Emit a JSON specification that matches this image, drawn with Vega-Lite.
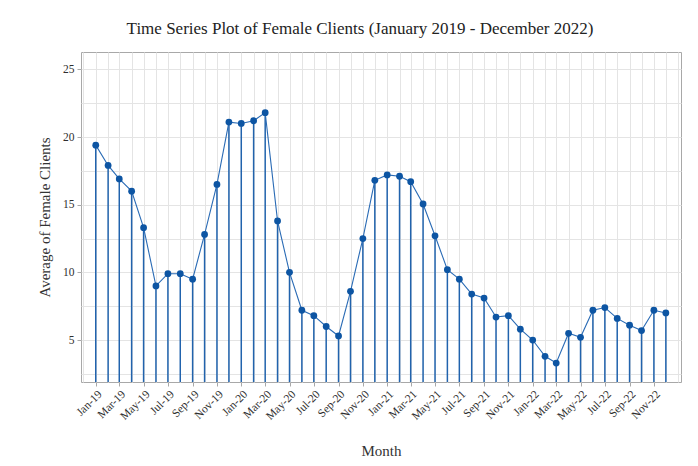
{
  "$schema": "https://vega.github.io/schema/vega-lite/v6.json",
  "width": 600,
  "height": 330,
  "autosize": {"type": "none"},
  "padding": {"left": 81, "top": 52, "right": 17, "bottom": 84},
  "background": "white",
  "title": {
    "text": "Time Series Plot of Female Clients (January 2019 - December 2022)",
    "font": "Liberation Serif",
    "fontSize": 17,
    "fontWeight": "normal",
    "color": "#222222",
    "anchor": "middle",
    "dx": -21,
    "offset": 14
  },
  "config": {
    "view": {"stroke": "#a8a8a8", "strokeWidth": 1},
    "axis": {
      "labelFont": "Liberation Serif",
      "titleFont": "Liberation Serif",
      "gridColor": "#e4e4e4",
      "gridWidth": 1,
      "tickColor": "#a8a8a8",
      "labelColor": "#2e2e2e",
      "titleColor": "#333333",
      "titleFontWeight": "normal"
    }
  },
  "data": {
    "values": [
      {"month": "2019-01-01", "value": 19.4},
      {"month": "2019-02-01", "value": 17.9},
      {"month": "2019-03-01", "value": 16.9},
      {"month": "2019-04-01", "value": 16.0},
      {"month": "2019-05-01", "value": 13.3},
      {"month": "2019-06-01", "value": 9.0},
      {"month": "2019-07-01", "value": 9.9},
      {"month": "2019-08-01", "value": 9.9},
      {"month": "2019-09-01", "value": 9.5},
      {"month": "2019-10-01", "value": 12.8},
      {"month": "2019-11-01", "value": 16.5},
      {"month": "2019-12-01", "value": 21.1},
      {"month": "2020-01-01", "value": 21.0},
      {"month": "2020-02-01", "value": 21.2},
      {"month": "2020-03-01", "value": 21.8},
      {"month": "2020-04-01", "value": 13.8},
      {"month": "2020-05-01", "value": 10.0},
      {"month": "2020-06-01", "value": 7.2},
      {"month": "2020-07-01", "value": 6.8},
      {"month": "2020-08-01", "value": 6.0},
      {"month": "2020-09-01", "value": 5.3},
      {"month": "2020-10-01", "value": 8.6},
      {"month": "2020-11-01", "value": 12.5},
      {"month": "2020-12-01", "value": 16.8},
      {"month": "2021-01-01", "value": 17.2},
      {"month": "2021-02-01", "value": 17.1},
      {"month": "2021-03-01", "value": 16.7},
      {"month": "2021-04-01", "value": 15.05},
      {"month": "2021-05-01", "value": 12.7},
      {"month": "2021-06-01", "value": 10.2},
      {"month": "2021-07-01", "value": 9.5},
      {"month": "2021-08-01", "value": 8.4},
      {"month": "2021-09-01", "value": 8.1},
      {"month": "2021-10-01", "value": 6.7},
      {"month": "2021-11-01", "value": 6.8},
      {"month": "2021-12-01", "value": 5.8},
      {"month": "2022-01-01", "value": 5.0},
      {"month": "2022-02-01", "value": 3.8},
      {"month": "2022-03-01", "value": 3.3},
      {"month": "2022-04-01", "value": 5.5},
      {"month": "2022-05-01", "value": 5.2},
      {"month": "2022-06-01", "value": 7.2},
      {"month": "2022-07-01", "value": 7.4},
      {"month": "2022-08-01", "value": 6.6},
      {"month": "2022-09-01", "value": 6.1},
      {"month": "2022-10-01", "value": 5.7},
      {"month": "2022-11-01", "value": 7.2},
      {"month": "2022-12-01", "value": 7.0}
    ]
  },
  "layer": [
    {
      "mark": {"type": "rule", "color": "#2163ad", "strokeWidth": 1.5},
      "encoding": {
        "x": {
          "field": "month",
          "type": "temporal",
          "scale": {"type": "utc", "domain": [{"year": 2018, "month": 11, "date": 25, "utc": true}, {"year": 2023, "month": 1, "date": 8, "utc": true}]},
          "axis": {"orient": "bottom", "tickCount": {"interval": "month", "step": 1}, "grid": true, "labels": false, "ticks": false, "domain": false, "title": null}
        },
        "y": {
          "field": "value",
          "type": "quantitative",
          "scale": {"domain": [1.9, 26.28], "nice": false, "zero": false},
          "axis": {"orient": "left", "values": [2.5, 5, 7.5, 10, 12.5, 15, 17.5, 20, 22.5, 25], "grid": true, "labels": false, "ticks": false, "domain": false, "title": null}
        },
        "y2": {"datum": 1.9}
      }
    },
    {
      "mark": {"type": "line", "color": "#2a6bb5", "strokeWidth": 1.1},
      "encoding": {
        "x": {
          "field": "month",
          "type": "temporal",
          "scale": {"type": "utc", "domain": [{"year": 2018, "month": 11, "date": 25, "utc": true}, {"year": 2023, "month": 1, "date": 8, "utc": true}]},
          "axis": {
            "orient": "bottom",
            "values": [
              {"year": 2019, "month": 1, "date": 1, "utc": true},
              {"year": 2019, "month": 3, "date": 1, "utc": true},
              {"year": 2019, "month": 5, "date": 1, "utc": true},
              {"year": 2019, "month": 7, "date": 1, "utc": true},
              {"year": 2019, "month": 9, "date": 1, "utc": true},
              {"year": 2019, "month": 11, "date": 1, "utc": true},
              {"year": 2020, "month": 1, "date": 1, "utc": true},
              {"year": 2020, "month": 3, "date": 1, "utc": true},
              {"year": 2020, "month": 5, "date": 1, "utc": true},
              {"year": 2020, "month": 7, "date": 1, "utc": true},
              {"year": 2020, "month": 9, "date": 1, "utc": true},
              {"year": 2020, "month": 11, "date": 1, "utc": true},
              {"year": 2021, "month": 1, "date": 1, "utc": true},
              {"year": 2021, "month": 3, "date": 1, "utc": true},
              {"year": 2021, "month": 5, "date": 1, "utc": true},
              {"year": 2021, "month": 7, "date": 1, "utc": true},
              {"year": 2021, "month": 9, "date": 1, "utc": true},
              {"year": 2021, "month": 11, "date": 1, "utc": true},
              {"year": 2022, "month": 1, "date": 1, "utc": true},
              {"year": 2022, "month": 3, "date": 1, "utc": true},
              {"year": 2022, "month": 5, "date": 1, "utc": true},
              {"year": 2022, "month": 7, "date": 1, "utc": true},
              {"year": 2022, "month": 9, "date": 1, "utc": true},
              {"year": 2022, "month": 11, "date": 1, "utc": true}
            ],
            "format": "%b-%y",
            "labelOverlap": false,
            "labelAngle": -45,
            "labelFont": "Liberation Serif",
            "labelFontSize": 11.5,
            "labelPadding": 2,
            "tickSize": 4,
            "grid": false,
            "domain": false,
            "title": "Month",
            "titleFont": "Liberation Serif",
            "titleFontSize": 15,
            "titlePadding": 22
          }
        },
        "y": {
          "field": "value",
          "type": "quantitative",
          "scale": {"domain": [1.9, 26.28], "nice": false, "zero": false},
          "axis": {
            "orient": "left",
            "values": [5, 10, 15, 20, 25],
            "labelFont": "Liberation Serif",
            "labelFontSize": 11.5,
            "labelPadding": 3,
            "tickSize": 4,
            "grid": false,
            "domain": false,
            "title": "Average of Female Clients",
            "titleFont": "Liberation Serif",
            "titleFontSize": 15,
            "titlePadding": 10
          }
        }
      }
    },
    {
      "mark": {"type": "point", "filled": true, "size": 46, "color": "#0d55a3", "opacity": 1},
      "encoding": {
        "x": {
          "field": "month",
          "type": "temporal",
          "scale": {"type": "utc", "domain": [{"year": 2018, "month": 11, "date": 25, "utc": true}, {"year": 2023, "month": 1, "date": 8, "utc": true}]},
          "axis": null
        },
        "y": {
          "field": "value",
          "type": "quantitative",
          "scale": {"domain": [1.9, 26.28], "nice": false, "zero": false},
          "axis": null
        }
      }
    }
  ],
  "resolve": {"axis": {"x": "independent", "y": "independent"}}
}
